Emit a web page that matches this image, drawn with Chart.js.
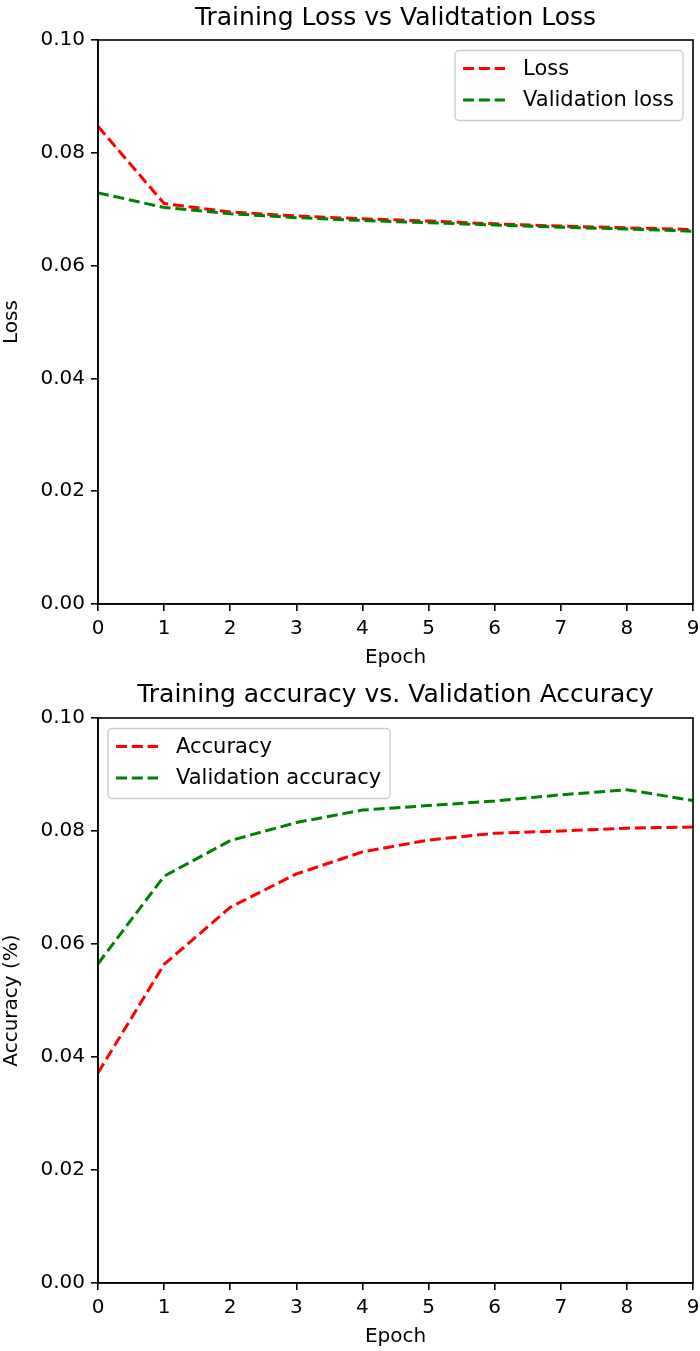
<!DOCTYPE html>
<html lang="en">
<head>
  <meta charset="UTF-8" />
  <title>Training curves</title>
  <script src="https://cdn.jsdelivr.net/npm/chart.js"></script>
  <style>
    body {
      margin: 0;
      background: #ffffff;
    }
    canvas {
      display: block;
    }
  </style>
</head>
<body>
  <canvas id="lossChart" width="700" height="675"></canvas>
  <canvas id="accChart" width="700" height="676"></canvas>
  <script>
    // Epochs and per-epoch metrics
    const epochs = ['0', '1', '2', '3', '4', '5', '6', '7', '8', '9'];
    const loss = [0.0847, 0.0710, 0.0695, 0.0688, 0.0683, 0.0679, 0.0674, 0.0670, 0.0667, 0.0664];
    const valLoss = [0.0729, 0.0703, 0.0692, 0.0685, 0.0680, 0.0676, 0.0672, 0.0668, 0.0665, 0.0661];
    const accuracy = [0.0372, 0.0564, 0.0665, 0.0724, 0.0763, 0.0784, 0.0796, 0.0800, 0.0805, 0.0807];
    const valAccuracy = [0.0565, 0.0720, 0.0783, 0.0815, 0.0837, 0.0845, 0.0853, 0.0864, 0.0873, 0.0854];
    const yTicks = [0, 0.02, 0.04, 0.06, 0.08, 0.10];

    const FONT = "'DejaVu Sans', sans-serif";

    // Frame around the plot area + title centred over it + boxed legend inside
    const framePlugin = {
      id: 'frame',
      afterDraw(chart, args, opts) {
        const { ctx, chartArea: a } = chart;
        ctx.save();
        ctx.strokeStyle = '#000';
        ctx.lineWidth = 1.6;
        ctx.strokeRect(a.left, a.top, a.right - a.left, a.bottom - a.top);

        ctx.fillStyle = '#000';
        ctx.font = '25px ' + FONT;
        ctx.textAlign = 'center';
        ctx.textBaseline = 'middle';
        ctx.fillText(opts.title, (a.left + a.right) / 2, opts.titleY);

        // legend
        ctx.font = '21px ' + FONT;
        const sets = chart.data.datasets;
        let maxW = 0;
        sets.forEach(d => { maxW = Math.max(maxW, ctx.measureText(d.label).width); });
        const handle = 42, gap = 18;
        const w = 8 + handle + gap + maxW + 9;
        const h = 70;
        const x = opts.legendSide === 'right' ? a.right - 10 - w : a.left + 10;
        const y = a.top + 10.5;
        ctx.beginPath();
        ctx.roundRect(x, y, w, h, 4);
        ctx.fillStyle = 'rgba(255,255,255,0.8)';
        ctx.fill();
        ctx.strokeStyle = '#cccccc';
        ctx.lineWidth = 1.4;
        ctx.stroke();
        sets.forEach((d, i) => {
          const ry = y + 18 + i * 31.5;
          ctx.beginPath();
          ctx.setLineDash(d.borderDash);
          ctx.strokeStyle = d.borderColor;
          ctx.lineWidth = d.borderWidth;
          ctx.moveTo(x + 8, ry);
          ctx.lineTo(x + 8 + handle, ry);
          ctx.stroke();
          ctx.setLineDash([]);
          ctx.fillStyle = '#000';
          ctx.textAlign = 'left';
          ctx.fillText(d.label, x + 8 + handle + gap, ry + 1);
        });
        ctx.restore();
      }
    };

    function makeChart(id, cfg) {
      return new Chart(document.getElementById(id), {
        type: 'line',
        data: {
          labels: epochs,
          datasets: [
            { label: cfg.labels[0], data: cfg.series[0], borderColor: '#ff0000', order: 1 },
            { label: cfg.labels[1], data: cfg.series[1], borderColor: '#008000', order: 0 }
          ].map(d => Object.assign(d, {
            borderDash: [11, 4.8],
            borderWidth: 3,
            pointRadius: 0,
            tension: 0,
            fill: false
          }))
        },
        options: {
          responsive: false,
          animation: false,
          layout: { padding: { top: cfg.top, right: 7, left: 0, bottom: 0 } },
          plugins: {
            legend: { display: false },
            tooltip: { enabled: false },
            frame: { title: cfg.title, titleY: cfg.titleY, legendSide: cfg.legendSide }
          },
          scales: {
            x: {
              type: 'category',
              offset: false,
              afterFit(scale) {
                scale.height = cfg.xHeight;
                scale.paddingLeft = 0;
                scale.paddingRight = 0;
              },
              grid: { drawOnChartArea: false, color: '#000', lineWidth: 1.6, tickLength: 7 },
              border: { display: true, color: '#000', width: 1.6 },
              ticks: { color: '#000', padding: 6, maxRotation: 0, font: { family: FONT, size: 20 } },
              title: {
                display: true, text: 'Epoch', color: '#000',
                font: { family: FONT, size: 20, lineHeight: 1.2 },
                padding: { top: 0, bottom: cfg.xTitlePad }
              }
            },
            y: {
              min: 0,
              max: 0.1,
              afterFit(scale) {
                scale.width = 98;
                scale.paddingTop = 0;
                scale.paddingBottom = 0;
              },
              afterBuildTicks(scale) { scale.ticks = yTicks.map(v => ({ value: v })); },
              grid: { drawOnChartArea: false, color: '#000', lineWidth: 1.6, tickLength: 7 },
              border: { display: true, color: '#000', width: 1.6 },
              ticks: {
                color: '#000', padding: 6,
                font: { family: FONT, size: 20 },
                callback: v => v.toFixed(2)
              },
              title: {
                display: true, text: cfg.yTitle, color: '#000',
                font: { family: FONT, size: 20, lineHeight: 1.2 },
                padding: { top: 0, bottom: 0 }
              }
            }
          }
        },
        plugins: [framePlugin]
      });
    }

    makeChart('lossChart', {
      labels: ['Loss', 'Validation loss'],
      series: [loss, valLoss],
      title: 'Training Loss vs Validtation Loss',
      titleY: 18,
      yTitle: 'Loss',
      legendSide: 'right',
      top: 40,
      xHeight: 71,
      xTitlePad: 5
    });

    makeChart('accChart', {
      labels: ['Accuracy', 'Validation accuracy'],
      series: [accuracy, valAccuracy],
      title: 'Training accuracy vs. Validation Accuracy',
      titleY: 20,
      yTitle: 'Accuracy (%)',
      legendSide: 'left',
      top: 43,
      xHeight: 68,
      xTitlePad: 2
    });
  </script>
</body>
</html>
